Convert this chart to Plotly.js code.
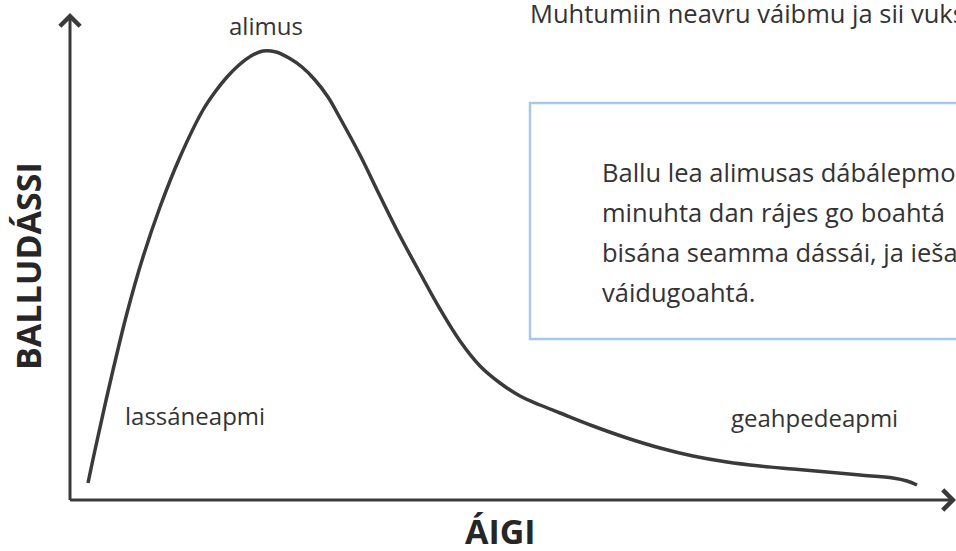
<!DOCTYPE html>
<html>
<head>
<meta charset="utf-8">
<script src="https://cdn.plot.ly/plotly-3.0.1.min.js"></script>
<style>html,body{margin:0;padding:0;background:#fff;overflow:hidden}#chart{width:956px;height:551px}</style>
</head>
<body>
<div id="chart"></div>
<script>
// Curve: age (x) vs fear level (y), arbitrary units
const age  = [18, 25, 40, 57, 73, 90, 110, 133, 145, 157, 169, 181, 193, 206, 219, 232, 245, 258, 270, 290, 310, 330, 350, 370, 390, 410, 430, 450, 470, 490, 523, 557, 590, 623, 657, 690, 723, 757, 790, 823, 837, 847];
const fear = [17, 50, 117, 187, 243, 293, 343, 390, 408, 423, 435, 444, 449, 448, 442, 433, 420, 403, 382, 345, 304, 264, 227, 191, 159, 134, 117, 104, 95, 87, 74, 62, 52, 44, 38, 34, 31, 28, 25, 22, 19, 15];

const xTitle = 'ÁIGI';
const yTitle = 'BALLUDÁSSI';
const peakLabel = 'alimus';
const riseLabel = 'lassáneapmi';
const fallLabel = 'geahpedeapmi';
const headline = 'Muhtumiin neavru váibmu ja sii vuks';
const boxLines = ['Ballu lea alimusas dábálepmo', 'minuhta dan rájes go boahtá', 'bisána seamma dássái, ja ieša', 'váidugoahtá.'];

const ink = '#3a3a3a';
const txt = '#333333';
const labelFont = {family: 'Open Sans, sans-serif', size: 24, color: txt};
const bodyFont = {family: 'Open Sans, sans-serif', size: 25.5, color: txt};
const boldFont = {family: 'Open Sans, sans-serif', size: 34, color: '#262626', weight: 700};

const annotations = [
  // axes drawn as arrows
  {x: 0, y: 487, ax: 0, ay: -1.5, xref: 'x', yref: 'y', axref: 'x', ayref: 'y', text: '', showarrow: true,
   arrowhead: 4, arrowsize: 1.3, arrowwidth: 3, arrowcolor: ink, standoff: 0, startstandoff: 0},
  {x: 886, y: 0, ax: -1.5, ay: 0, xref: 'x', yref: 'y', axref: 'x', ayref: 'y', text: '', showarrow: true,
   arrowhead: 4, arrowsize: 1.3, arrowwidth: 3, arrowcolor: ink, standoff: 0, startstandoff: 0},
  {x: 196, y: 475, xref: 'x', yref: 'y', text: peakLabel, showarrow: false, font: labelFont, xanchor: 'center', yanchor: 'middle'},
  {x: 125, y: 85, xref: 'x', yref: 'y', text: riseLabel, showarrow: false, font: labelFont, xanchor: 'center', yanchor: 'middle'},
  {x: 744, y: 83, xref: 'x', yref: 'y', text: fallLabel, showarrow: false, font: labelFont, xanchor: 'center', yanchor: 'middle'},
  {x: 458, y: 487, xref: 'x', yref: 'y', text: headline, showarrow: false, font: bodyFont, xanchor: 'left', yanchor: 'middle'},
  {x: 430, y: -31, xref: 'x', yref: 'y', text: xTitle, showarrow: false, font: boldFont, xanchor: 'center', yanchor: 'middle'},
  {x: -42, y: 234, xref: 'x', yref: 'y', text: yTitle, showarrow: false, font: boldFont, textangle: -90, xanchor: 'center', yanchor: 'middle'}
];
boxLines.forEach((t, i) => {
  annotations.push({x: 530, y: 328 - i * 40, xref: 'x', yref: 'y', text: t, showarrow: false, font: bodyFont, xanchor: 'left', yanchor: 'middle'});
});

const data = [{
  x: age, y: fear, type: 'scatter', mode: 'lines',
  line: {color: ink, width: 3.5, shape: 'spline', smoothing: 1},
  hoverinfo: 'skip'
}];

const layout = {
  width: 956, height: 551,
  margin: {l: 0, r: 0, t: 0, b: 0},
  paper_bgcolor: '#ffffff', plot_bgcolor: '#ffffff',
  showlegend: false,
  xaxis: {range: [-70, 886], visible: false, fixedrange: true},
  yaxis: {range: [-51, 500], visible: false, fixedrange: true},
  shapes: [
    {type: 'rect', xref: 'x', yref: 'y', x0: 460, x1: 920, y0: 161, y1: 397,
     line: {color: '#a8c8ea', width: 2.5}, fillcolor: 'rgba(0,0,0,0)', layer: 'below'}
  ],
  annotations: annotations
};

Plotly.newPlot('chart', data, layout, {displayModeBar: false, staticPlot: true});
</script>
</body>
</html>
